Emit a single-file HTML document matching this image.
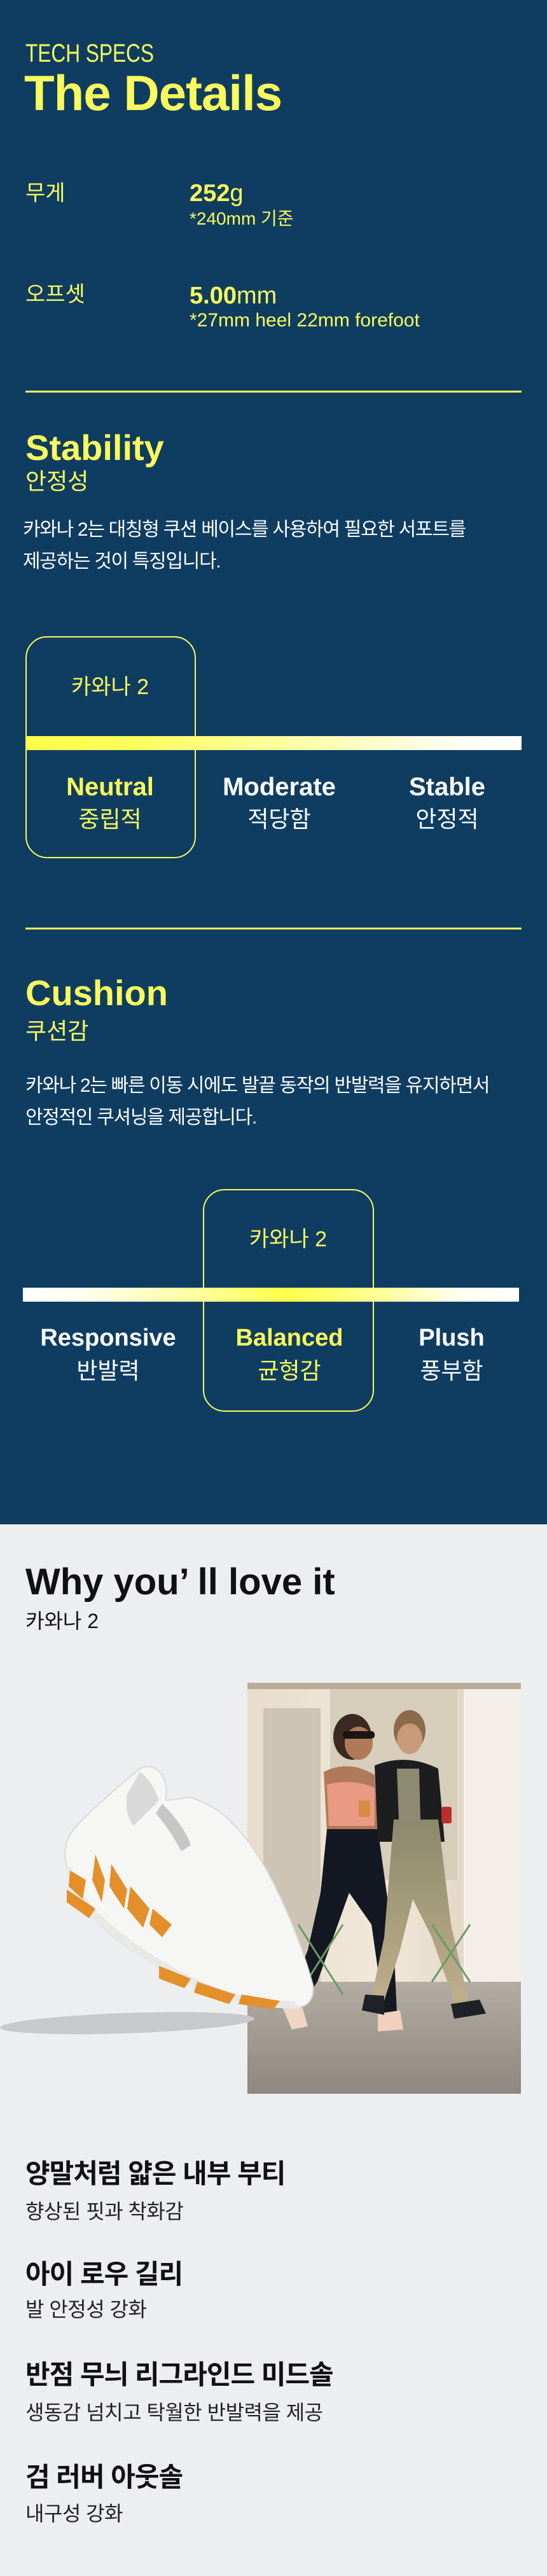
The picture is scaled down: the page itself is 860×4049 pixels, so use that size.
<!DOCTYPE html>
<html><head><meta charset="utf-8"><style>
*{margin:0;padding:0;box-sizing:border-box}
body{width:860px;height:4049px;position:relative;background:#edeef0;font-family:"Liberation Sans","Noto Sans CJK KR",sans-serif;overflow:hidden}
.navy{position:absolute;left:0;top:0;width:860px;height:2396px;background:#0f3d62}
.t{position:absolute;white-space:nowrap;line-height:1}
.y{color:#fafa5c}
.w{color:#fff}
.b{font-weight:bold}
.c{text-align:center;width:300px;margin-left:-150px}
.box{position:absolute;border:2.5px solid #fafa5c;border-radius:34px}
.kr{font-family:"Noto Sans CJK KR","Liberation Sans",sans-serif}
</style></head><body>
<div class="navy"></div>

<div class="t y" style="left:40px;top:64px;font-size:40px;transform:scaleX(0.79);transform-origin:left">TECH SPECS</div>
<div class="t y b" style="left:38px;top:107px;font-size:78px;letter-spacing:-1px">The Details</div>

<div class="t y" style="left:40px;top:287px;font-size:34px">무게</div>
<div class="t y" style="left:298px;top:285px;font-size:38px"><b>252</b>g</div>
<div class="t y" style="left:298px;top:330px;font-size:28px">*240mm 기준</div>

<div class="t y" style="left:40px;top:446px;font-size:34px">오프셋</div>
<div class="t y" style="left:298px;top:446px;font-size:38px"><b>5.00</b>mm</div>
<div class="t y" style="left:298px;top:489px;font-size:30px">*27mm heel 22mm forefoot</div>

<div style="position:absolute;left:40px;top:614px;width:780px;height:3px;background:#fafa5c"></div>

<!-- Stability -->
<div class="t y b" style="left:40px;top:676px;font-size:56px">Stability</div>
<div class="t y" style="left:40px;top:739px;font-size:36px">안정성</div>
<div class="t w" style="left:36px;top:808px;font-size:30px;line-height:50px;letter-spacing:-1.3px">카와나 2는 대칭형 쿠션 베이스를 사용하여 필요한 서포트를<br>제공하는 것이 특징입니다.</div>

<div class="box" style="left:40px;top:1000px;width:268px;height:349px"></div>
<div class="t y c" style="left:173px;top:1063px;font-size:34px">카와나 2</div>
<div style="position:absolute;left:40px;top:1157px;width:780px;height:22px;background:linear-gradient(to right,#ffff48 0%,#ffff5a 20%,#ffffa8 55%,#fffff0 85%,#fff 100%)"></div>
<div class="t y b c" style="left:173px;top:1217px;font-size:40px">Neutral</div>
<div class="t y c" style="left:173px;top:1270px;font-size:36px">중립적</div>
<div class="t w b c" style="left:439px;top:1217px;font-size:40px">Moderate</div>
<div class="t w c" style="left:439px;top:1270px;font-size:36px">적당함</div>
<div class="t w b c" style="left:703px;top:1217px;font-size:40px">Stable</div>
<div class="t w c" style="left:703px;top:1270px;font-size:36px">안정적</div>

<div style="position:absolute;left:40px;top:1458px;width:780px;height:3px;background:#fafa5c"></div>

<!-- Cushion -->
<div class="t y b" style="left:40px;top:1533px;font-size:56px">Cushion</div>
<div class="t y" style="left:40px;top:1603px;font-size:36px">쿠션감</div>
<div class="t w" style="left:40px;top:1682px;font-size:30px;line-height:50px;letter-spacing:-1.3px">카와나 2는 빠른 이동 시에도 발끝 동작의 반발력을 유지하면서<br>안정적인 쿠셔닝을 제공합니다.</div>

<div class="box" style="left:319px;top:1869px;width:269px;height:350px"></div>
<div class="t y c" style="left:453px;top:1931px;font-size:34px">카와나 2</div>
<div style="position:absolute;left:36px;top:2024px;width:780px;height:22px;background:linear-gradient(to right,#fff 0%,#fffff0 12%,#ffffa0 35%,#ffff48 53%,#ffff90 70%,#fffff0 88%,#fff 100%)"></div>
<div class="t w b c" style="left:170px;top:2084px;font-size:38px">Responsive</div>
<div class="t w c" style="left:170px;top:2137px;font-size:36px">반발력</div>
<div class="t y b c" style="left:455px;top:2084px;font-size:38px">Balanced</div>
<div class="t y c" style="left:455px;top:2137px;font-size:36px">균형감</div>
<div class="t w b c" style="left:710px;top:2084px;font-size:38px">Plush</div>
<div class="t w c" style="left:710px;top:2137px;font-size:36px">풍부함</div>

<!-- Why you'll love it -->
<div class="t b" style="left:40px;top:2458px;font-size:58px;color:#111">Why you’ ll love it</div>
<div class="t" style="left:40px;top:2532px;font-size:32px;color:#111">카와나 2</div>

<!-- Photo -->
<svg style="position:absolute;left:389px;top:2645px" width="430" height="646" viewBox="0 0 430 646">
<defs>
<linearGradient id="bg" x1="0" y1="0" x2="1" y2="0"><stop offset="0" stop-color="#e8dccb"/><stop offset="0.5" stop-color="#f1e8da"/><stop offset="1" stop-color="#d9cdb8"/></linearGradient>
<linearGradient id="pv" x1="0" y1="0" x2="0" y2="1"><stop offset="0" stop-color="#b3aca2"/><stop offset="1" stop-color="#8d877f"/></linearGradient>
<linearGradient id="ol" x1="0" y1="0" x2="0" y2="1"><stop offset="0" stop-color="#8a8a6c"/><stop offset="1" stop-color="#c2b08c"/></linearGradient>
</defs>
<rect width="430" height="646" fill="url(#bg)"/>
<rect x="25" y="40" width="90" height="460" fill="#cdc4b4"/>
<rect x="130" y="0" width="200" height="310" fill="#d6cdbb"/>
<rect x="340" y="0" width="90" height="500" fill="#f3efe8"/>
<rect x="0" y="470" width="430" height="176" fill="url(#pv)"/>
<rect x="0" y="0" width="430" height="10" fill="#b8ad9b"/>
<!-- woman 1 -->
<ellipse cx="165" cy="85" rx="30" ry="36" fill="#3a2a22"/>
<ellipse cx="175" cy="95" rx="22" ry="26" fill="#b07a5a"/>
<rect x="150" y="76" width="50" height="12" rx="5" fill="#1a1512"/>
<path d="M120 140 Q160 120 200 145 L205 235 L125 235 Z" fill="#b07a5a"/>
<path d="M125 160 Q165 150 200 165 L200 225 L128 225 Z" fill="#e89a82"/>
<path d="M125 230 L205 230 L230 410 L235 520 L215 520 L195 380 L160 330 L110 470 L75 520 L60 510 L95 420 L115 330 Z" fill="#141822"/>
<rect x="175" y="185" width="18" height="26" rx="3" fill="#d98a45"/>
<path d="M55 510 L85 505 L95 540 L70 545 Z" fill="#f0d4c4"/>
<path d="M205 520 L240 515 L245 545 L205 548 Z" fill="#f1d0bd"/>
<!-- woman 2 -->
<ellipse cx="255" cy="75" rx="25" ry="32" fill="#8a6a4a"/>
<ellipse cx="255" cy="88" rx="20" ry="24" fill="#c89a7a"/>
<path d="M200 130 Q250 110 300 135 L310 250 L205 250 Z" fill="#1d1d20"/>
<path d="M235 135 L270 135 L272 215 L238 215 Z" fill="#8c8a70"/>
<path d="M230 215 L300 215 L320 380 L350 510 L330 515 L290 400 L260 340 L240 420 L215 500 L195 495 L215 400 Z" fill="url(#ol)"/>
<rect x="305" y="195" width="16" height="26" rx="3" fill="#b8302a"/>
<path d="M320 505 L365 498 L375 520 L325 528 Z" fill="#1e2128"/>
<path d="M185 490 L215 492 L215 522 L180 515 Z" fill="#1e2128"/>
<path d="M235 190 Q250 300 80 330" stroke="none" fill="none"/>
<!-- chair -->
<path d="M80 380 L150 490 M150 380 L80 490 M290 380 L350 470 M350 380 L290 470" stroke="#6a9a6a" stroke-width="3"/>
</svg>

<!-- Shoe -->
<svg style="position:absolute;left:0;top:2740px" width="500" height="480" viewBox="0 0 500 480">
<ellipse cx="200" cy="440" rx="200" ry="16" fill="#c8c9cb" transform="rotate(-2 200 440)"/>
<path d="M104 190 Q95 150 130 120 Q170 80 220 40 Q240 30 255 50 Q265 70 260 90 L300 85 Q340 100 360 120 Q400 160 430 220 Q470 300 492 380 Q495 410 470 415 Q420 418 340 395 Q230 350 160 290 Q115 250 104 190 Z" fill="#f6f6f4" stroke="#d9d9d9" stroke-width="2"/>
<path d="M104 195 Q110 250 165 295 Q235 352 340 398 Q420 420 472 416 L462 405 Q400 405 340 385 Q245 345 175 285 Q125 245 112 195 Z" fill="#e8e8e6"/>
<path d="M220 45 Q240 60 250 90 Q230 110 210 130 Q195 110 200 80 Z" fill="#d9d9d9"/>
<path d="M255 95 Q290 130 300 160 L285 170 Q270 140 245 110 Z" fill="#c6c6c6"/>
<g fill="#e38f2a">
<path d="M110 200 L135 215 L130 245 L108 225 Z"/>
<path d="M150 175 L165 215 L160 250 L145 215 Z"/>
<path d="M175 190 L200 230 L195 260 L172 225 Z"/>
<path d="M205 225 L235 260 L225 290 L200 260 Z"/>
<path d="M240 260 L270 285 L255 305 L235 285 Z"/>
<path d="M250 350 L300 370 L290 385 L250 370 Z"/>
<path d="M310 375 L370 395 L360 410 L305 392 Z"/>
<path d="M380 395 L440 405 L430 418 L375 410 Z"/>
<path d="M105 230 L150 260 L140 275 L105 250 Z"/>
</g>
</svg>

<!-- List -->
<div class="t b" style="left:40px;top:3396px;font-size:42px;letter-spacing:-1px;color:#111">양말처럼 얇은 내부 부티</div>
<div class="t" style="left:40px;top:3460px;font-size:32px;letter-spacing:-0.5px;color:#222">향상된 핏과 착화감</div>
<div class="t b" style="left:40px;top:3554px;font-size:42px;letter-spacing:-1px;color:#111">아이 로우 길리</div>
<div class="t" style="left:40px;top:3614px;font-size:32px;letter-spacing:-0.5px;color:#222">발 안정성 강화</div>
<div class="t b" style="left:40px;top:3712px;font-size:42px;letter-spacing:-1px;color:#111">반점 무늬 리그라인드 미드솔</div>
<div class="t" style="left:40px;top:3776px;font-size:32px;letter-spacing:-0.5px;color:#222">생동감 넘치고 탁월한 반발력을 제공</div>
<div class="t b" style="left:40px;top:3873px;font-size:42px;letter-spacing:-1px;color:#111">검 러버 아웃솔</div>
<div class="t" style="left:40px;top:3935px;font-size:32px;letter-spacing:-0.5px;color:#222">내구성 강화</div>
</body></html>
